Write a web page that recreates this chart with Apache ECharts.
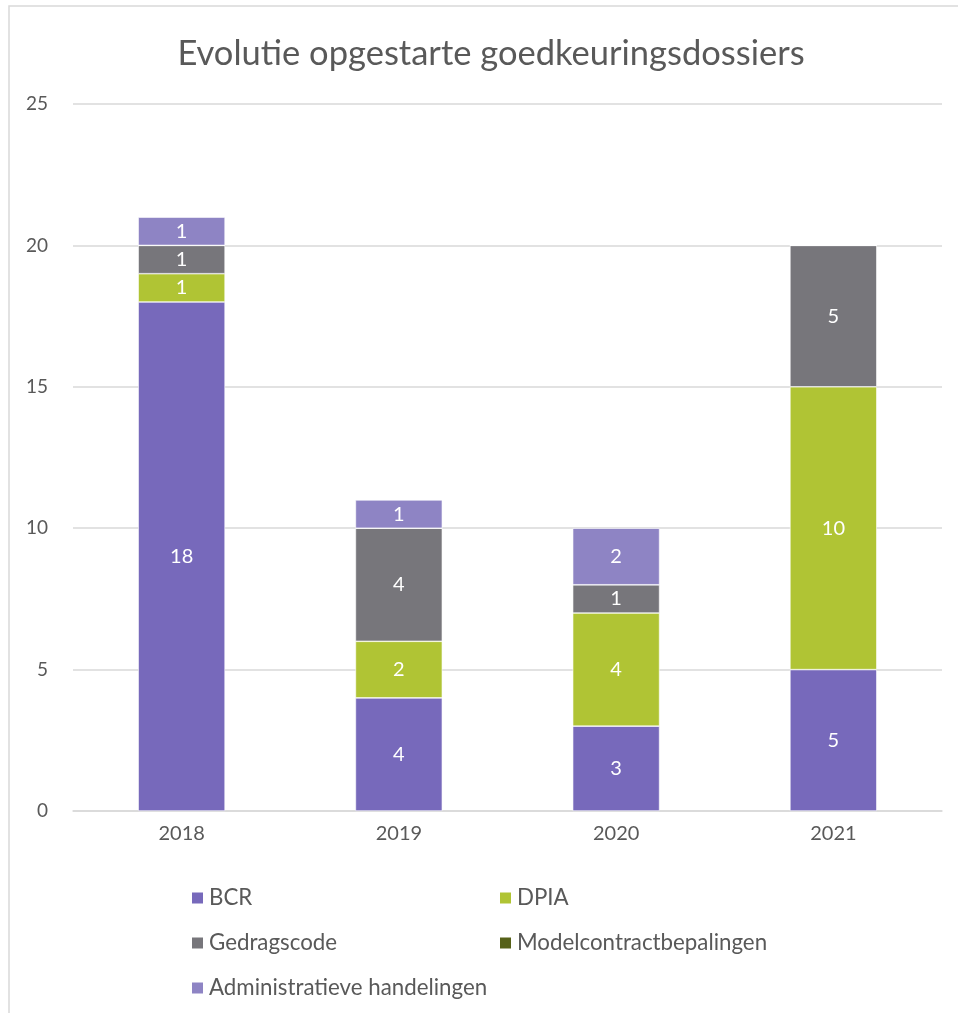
<!DOCTYPE html>
<html>
<head>
<meta charset="utf-8">
<script src="https://cdn.jsdelivr.net/npm/echarts@6/dist/echarts.min.js"></script>
<style>
  html, body { margin: 0; padding: 0; background: #fff; }
  #main { width: 958px; height: 1013px; }
</style>
</head>
<body>
<div id="main"></div>
<script>
var years = ['2018', '2019', '2020', '2021'];
var bcr = [18, 4, 3, 5];
var dpia = [1, 2, 4, 10];
var gedragscode = [1, 4, 1, 5];
var modelcontract = [0, 0, 0, 0];
var administratief = [1, 1, 2, 0];
var yTicks = [0, 5, 10, 15, 20, 25];

var fontFam = 'Lato';
var textGrey = '#595959';

function serie(name, data, color){
    return {
        name: name,
        type: 'bar',
        stack: 'totaal',
        barWidth: '40%',
        data: data,
        itemStyle: { color: color, borderColor: '#ffffff', borderWidth: 0.6 },
        label: {
            show: true,
            position: 'inside',
            color: '#ffffff',
            fontSize: 20,
            fontFamily: fontFam,
            formatter: function(p){ return p.value ? p.value : ''; }
        }
    };
}

var chart = echarts.init(document.getElementById('main'));
var option = {
    backgroundColor: '#ffffff',
    animation: false,
    title: {
        text: 'Evolutie opgestarte goedkeuringsdossiers',
        left: 486,
        top: 31,
        textAlign: 'center',
        textStyle: { color: textGrey, fontSize: 34.5, fontWeight: 'normal', fontFamily: fontFam }
    },
    graphic: [{
        type: 'rect',
        shape: { x: 9, y: 6, width: 960, height: 1020 },
        style: { fill: 'none', stroke: '#d9d9d9', lineWidth: 1.5 },
        silent: true
    }],
    grid: { left: 73, right: 16, top: 104, bottom: 202 },
    legend: [{
        orient: 'vertical',
        left: 185,
        top: 882,
        itemWidth: 13,
        itemHeight: 13,
        itemGap: 23,
        icon: 'rect',
        textStyle: { color: textGrey, fontSize: 22.3, fontFamily: fontFam, lineHeight: 22 },
        data: ['BCR', 'Gedragscode', 'Administratieve handelingen']
    }, {
        orient: 'vertical',
        left: 493,
        top: 882,
        itemWidth: 13,
        itemHeight: 13,
        itemGap: 23,
        icon: 'rect',
        textStyle: { color: textGrey, fontSize: 22.3, fontFamily: fontFam, lineHeight: 22 },
        data: ['DPIA', 'Modelcontractbepalingen']
    }],
    xAxis: {
        type: 'category',
        data: years,
        axisLine: { show: true, lineStyle: { color: '#d9d9d9', width: 1.5 } },
        axisTick: { show: false },
        axisLabel: { color: textGrey, fontSize: 20, fontFamily: fontFam, margin: 13 }
    },
    yAxis: {
        type: 'value',
        min: yTicks[0],
        max: yTicks[yTicks.length - 1],
        interval: 5,
        axisLine: { show: false },
        axisTick: { show: false },
        splitLine: { lineStyle: { color: '#d9d9d9', width: 1.5 } },
        axisLabel: { color: textGrey, fontSize: 19, fontFamily: fontFam, margin: 25 }
    },
    series: [
        serie('BCR', bcr, '#7769bb'),
        serie('DPIA', dpia, '#b0c434'),
        serie('Gedragscode', gedragscode, '#77767b'),
        serie('Modelcontractbepalingen', modelcontract, '#566119'),
        serie('Administratieve handelingen', administratief, '#8e84c4')
    ]
};
chart.setOption(option);
</script>
</body>
</html>
